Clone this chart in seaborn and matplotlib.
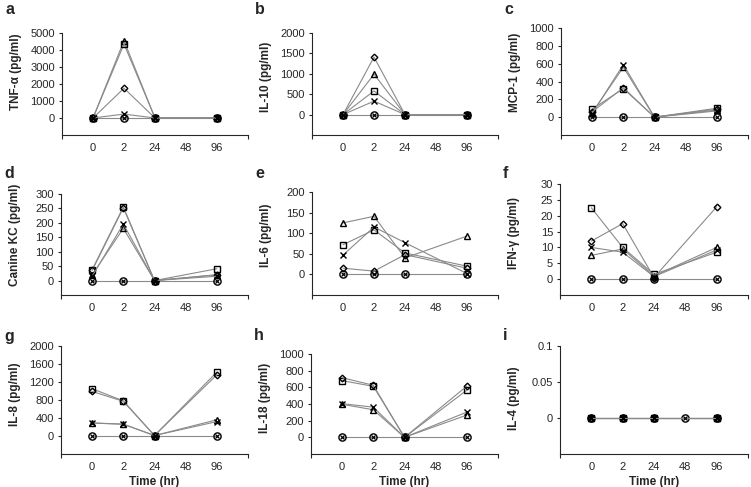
import numpy as np
import pandas as pd
import seaborn as sns
import matplotlib
matplotlib.use("Agg")
import matplotlib.pyplot as plt

nan = np.nan

TIMES = ["0", "2", "24", "48", "96"]
SERIES = ["control", "triangle", "square", "diamond", "cross"]

# rows follow SERIES, columns follow TIMES (pg/ml)
TNF_A = [[0, 0, 0, nan, 0],
         [0, 4550, 0, nan, 0],
         [0, 4350, 0, nan, 0],
         [0, 1750, 0, nan, 0],
         [0, 230, 0, nan, 0]]
IL10 = [[0, 0, 0, nan, 0],
        [0, 990, 0, nan, 0],
        [0, 580, 0, nan, 0],
        [0, 1410, 0, nan, 0],
        [0, 330, 0, nan, 0]]
MCP1 = [[0, 0, 0, nan, 0],
        [50, 560, 0, nan, 80],
        [90, 320, 0, nan, 100],
        [60, 330, 0, nan, 90],
        [40, 590, 0, nan, 70]]
KC = [[0, 0, 0, nan, 0],
      [20, 181, 0, nan, 20],
      [38, 255, 0, nan, 41],
      [35, 252, 0, nan, 20],
      [15, 196, 0, nan, 15]]
IL6 = [[0, 0, 0, nan, 0],
       [125, 141, 40, nan, 93],
       [72, 108, 52, nan, 20],
       [15, 8, 48, nan, 15],
       [47, 115, 77, nan, 2]]
IFNG = [[0, 0, 0, nan, 0],
        [7.5, 9.5, 1.0, nan, 10],
        [22.5, 10, 1.5, nan, 8.5],
        [12, 17.5, 0.5, nan, 22.8],
        [10, 8.5, 0.8, nan, 9.2]]
IL8 = [[0, 0, 0, nan, 0],
       [288, 260, 10, nan, 360],
       [1050, 780, 10, nan, 1420],
       [990, 770, 10, nan, 1360],
       [290, 265, 10, nan, 320]]
IL18 = [[0, 0, 0, nan, 0],
        [396, 331, 0, nan, 267],
        [680, 612, 0, nan, 566],
        [715, 625, 0, nan, 615],
        [404, 362, 0, nan, 303]]
IL4 = [[0, 0, 0, 0, 0],
       [0, 0, 0, nan, 0],
       [0, 0, 0, nan, 0],
       [0, 0, 0, nan, 0],
       [0, 0, 0, nan, 0]]

PANELS = [
    ("a", "TNF-α (pg/ml)", TNF_A, -1000, 5000, 1000),
    ("b", "IL-10 (pg/ml)", IL10, -500, 2000, 500),
    ("c", "MCP-1 (pg/ml)", MCP1, -200, 1000, 200),
    ("d", "Canine KC (pg/ml)", KC, -50, 300, 50),
    ("e", "IL-6 (pg/ml)", IL6, -50, 200, 50),
    ("f", "IFN-γ (pg/ml)", IFNG, -5, 30, 5),
    ("g", "IL-8 (pg/ml)", IL8, -400, 2000, 400),
    ("h", "IL-18 (pg/ml)", IL18, -200, 1000, 200),
    ("i", "IL-4 (pg/ml)", IL4, -0.05, 0.1, 0.05),
]

# plot-area boxes in pixels: left, top, right, bottom
BOXES = [
    (62, 33, 248, 135), (312, 33, 498, 135), (561, 28, 748, 135),
    (61, 194, 248, 295), (312, 192, 498, 295), (560, 184, 748, 295),
    (61, 346, 248, 454), (311, 354, 498, 454), (560, 346, 748, 454),
]
# vertical centre of each y-axis title, pixels
LABEL_Y = [72, 77, 72, 235, 235, 233, 394, 398, 398]

MARKERS = {"triangle": ("^", 4.6), "square": ("s", 4.2), "diamond": ("D", 3.4),
           "cross": ("x", 4.2), "control": ("o", 5.2)}

W, H = 751, 487
sns.set_style("ticks")
plt.rcParams["font.family"] = ["Liberation Sans", "DejaVu Sans"]
plt.rcParams["axes.linewidth"] = 0.8

fig = plt.figure(figsize=(W / 100, H / 100), dpi=100)

for idx, (letter, ylabel, values, ymin, ymax, step) in enumerate(PANELS):
    l, t, r, b = BOXES[idx]
    ax = fig.add_axes([l / W, 1 - b / H, (r - l) / W, (b - t) / H])

    rows = []
    for name, vals in zip(SERIES, values):
        for pos, v in enumerate(vals):
            if not np.isnan(v):
                rows.append({"series": name, "pos": pos, "value": v})
    df = pd.DataFrame(rows)

    for name in SERIES:
        sub = df[df["series"] == name]
        mk, ms = MARKERS[name]
        sns.lineplot(data=sub, x="pos", y="value", ax=ax, estimator=None,
                     sort=False, errorbar=None, color="#8a8a8a", linewidth=0.8,
                     marker=mk, markersize=ms, markerfacecolor="none",
                     markeredgecolor="black", markeredgewidth=1.0, zorder=3)
        if name == "control":
            sns.lineplot(data=sub, x="pos", y="value", ax=ax, estimator=None,
                         sort=False, errorbar=None, linestyle="none",
                         marker="x", markersize=3, markeredgecolor="black",
                         markeredgewidth=0.9, zorder=4)

    ax.set_xlim(-1, 5)
    ax.set_xticks(range(len(TIMES)))
    ax.set_xticklabels(TIMES)
    ax.set_xticks([-1, 5], minor=True)
    ax.tick_params(axis="x", which="major", length=0, pad=6, labelsize=8)
    ax.tick_params(axis="x", which="minor", length=3, width=0.8)

    ax.set_ylim(ymin, ymax)
    ticks = np.arange(0, ymax + step / 2, step)
    ax.set_yticks(ticks)
    ax.set_yticklabels([f"{v:g}" for v in ticks])
    ax.tick_params(axis="y", length=2.5, width=0.8, pad=2.5, labelsize=8)

    sns.despine(ax=ax)
    ax.set_ylabel(ylabel, fontsize=8.5, fontweight="bold")
    ax.yaxis.set_label_coords(-40 / (r - l), (b - LABEL_Y[idx]) / (b - t))
    if idx >= 6:
        ax.set_xlabel("Time (hr)", fontsize=8.5, fontweight="bold", labelpad=3)
    else:
        ax.set_xlabel("")

    ly = [10, 173, 336][idx // 3]
    fig.text((l - 57) / W, 1 - ly / H, letter, fontsize=11.5,
             fontweight="bold", va="center", ha="left")

fig.savefig("out.png", dpi=100)
